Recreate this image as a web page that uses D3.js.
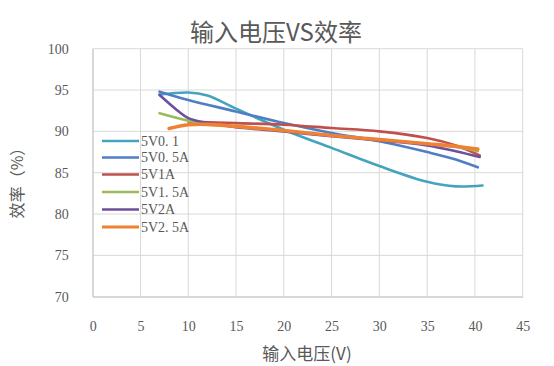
<!DOCTYPE html>
<html><head><meta charset="utf-8">
<script src="https://cdn.jsdelivr.net/npm/d3@7"></script>
<style>body{margin:0;background:#fff}svg{display:block}</style>
</head><body>
<script>
const seriesNames = ["5V0. 1","5V0. 5A","5V1A","5V1. 5A","5V2A","5V2. 5A"];
const seriesColors = ["#46A3BD","#4E7EC4","#C0504D","#9BBB59","#6E4E9E","#EE8133"];
const s_5V0_1  = [[7,94.45],[10,94.7],[12,94.35],[15,92.75],[20,90.2],[25,88.0],[30,85.8],[35,83.9],[38,83.35],[40.8,83.45]];
const s_5V0_5A = [[7,94.8],[10,93.8],[15,92.4],[20,91.0],[25,89.8],[30,88.8],[35,87.5],[38,86.6],[40.3,85.65]];
const s_5V1A   = [[10,91.2],[15,91.0],[20,90.8],[25,90.4],[30,90.0],[35,89.2],[38,88.3],[40.5,87.1]];
const s_5V1_5A = [[7,92.2],[10,91.3],[12,90.9],[15,90.6],[20,90.1],[25,89.5],[30,89.0],[35,88.5],[38,88.1],[40.3,87.6]];
const s_5V2A   = [[7,94.4],[9,92.4],[10,91.6],[12,91.0],[15,90.5],[20,90.0],[25,89.4],[30,88.9],[35,88.3],[38,87.6],[40.5,86.9]];
const s_5V2_5A = [[8,90.35],[10,90.8],[12,90.85],[15,90.6],[20,90.1],[25,89.5],[30,89.0],[35,88.5],[38,88.2],[40.3,87.85]];
const seriesData = [s_5V0_1,s_5V0_5A,s_5V1A,s_5V1_5A,s_5V2A,s_5V2_5A];
const xTicks = [0,5,10,15,20,25,30,35,40,45];
const yTicks = [70,75,80,85,90,95,100];
const title = "输入电压VS效率";
const xTitle = "输入电压(V)";
const yTitle = "效率（%）";

const W=554,H=366;
const svg=d3.select("body").append("svg").attr("width",W).attr("height",H);
const x=d3.scaleLinear().domain([0,45]).range([92.7,522.7]);
const y=d3.scaleLinear().domain([70,100]).range([296.7,48.7]);
const txt="#595959";
const serif="'Liberation Serif','DejaVu Serif',serif";
const cjk="'Noto Sans CJK SC','Noto Sans',sans-serif";

// gridlines
const g=svg.append("g");
g.selectAll("line.v").data(xTicks).join("line").attr("x1",d=>x(d)).attr("x2",d=>x(d))
 .attr("y1",y(100)).attr("y2",y(70)).attr("stroke","#D9D9D9").attr("stroke-width",1);
g.selectAll("line.h").data(yTicks).join("line").attr("y1",d=>y(d)).attr("y2",d=>y(d))
 .attr("x1",x(0)).attr("x2",x(45)).attr("stroke","#D9D9D9").attr("stroke-width",1);

// axes labels via d3 axes
const xa=svg.append("g").attr("transform",`translate(0,${y(70)})`)
 .call(d3.axisBottom(x).tickValues(xTicks).tickSize(0).tickPadding(24));
xa.attr("font-family",serif).attr("font-size",14);
xa.select(".domain").attr("stroke","#C8C8C8");
xa.selectAll("text").attr("fill",txt);
const ya=svg.append("g").attr("transform",`translate(${x(0)},0)`)
 .call(d3.axisLeft(y).tickValues(yTicks).tickSize(0).tickPadding(24));
ya.attr("font-family",serif).attr("font-size",14);
ya.select(".domain").attr("stroke","#C8C8C8");
ya.selectAll("text").attr("fill",txt);

// lines
const line=d3.line().x(d=>x(d[0])).y(d=>y(d[1])).curve(d3.curveCatmullRom.alpha(0.5));
seriesData.forEach((s,i)=>{
  svg.append("path").attr("d",line(s)).attr("fill","none").attr("stroke",seriesColors[i])
   .attr("stroke-width",i===5?3.6:2.6).attr("stroke-linecap","round").attr("stroke-linejoin","round");
});

// legend
const lg=svg.append("g");
const ly=[141,157.5,174.5,192,209.5,227];
seriesNames.forEach((n,i)=>{
  lg.append("line").attr("x1",102).attr("x2",139).attr("y1",ly[i]).attr("y2",ly[i])
   .attr("stroke",seriesColors[i]).attr("stroke-width",i===5?3:2.6);
  lg.append("text").attr("x",141).attr("y",ly[i]).attr("dy","0.35em").text(n)
   .attr("fill",txt).style("font-family",serif).style("font-size","14px");
});

// titles
svg.append("text").attr("x",276).attr("y",33).attr("dy","0.35em").attr("text-anchor","middle")
 .text(title).attr("fill",txt).style("font-family",cjk).style("font-size","24px");
svg.append("text").attr("x",307).attr("y",354).attr("dy","0.35em").attr("text-anchor","middle")
 .text(xTitle).attr("fill",txt).style("font-family",cjk).style("font-size","17px");
svg.append("text").attr("transform","translate(17,179) rotate(-90)").attr("dy","0.35em").attr("text-anchor","middle")
 .text(yTitle).attr("fill",txt).style("font-family",cjk).style("font-size","16px");
</script>
</body></html>
